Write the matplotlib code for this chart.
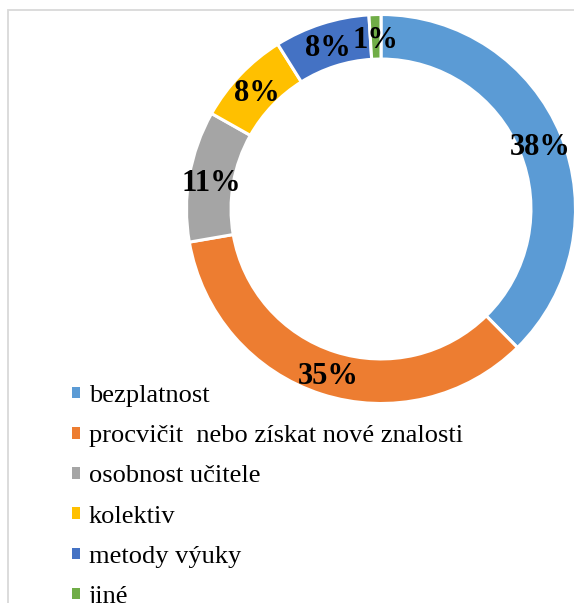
import matplotlib
matplotlib.use("Agg")
import matplotlib.pyplot as plt
from matplotlib.patches import Patch, Rectangle

categories = ["bezplatnost", "procvičit  nebo získat nové znalosti", "osobnost učitele",
              "kolektiv", "metody výuky", "jiné"]
values = [38, 35, 11, 8, 8, 1]
pct_labels = ["38%", "35%", "11%", "8%", "8%", "1%"]
colors = ["#5B9BD5", "#ED7D31", "#A5A5A5", "#FFC000", "#4472C4", "#70AD47"]

W, H = 574, 603
fig = plt.figure(figsize=(W / 100, H / 100), dpi=100)
fig.patch.set_facecolor("white")

# outer border (chart area is cropped on right/bottom)
fig.add_artist(Rectangle((8 / W, -0.1), 1.2, (H - 10) / H + 0.1, transform=fig.transFigure,
                         fill=False, edgecolor="#d9d9d9", linewidth=1.3))

cx, cy, R = 381, H - 209, 194.5
half = 200
ax = fig.add_axes([(cx - half) / W, (cy - half) / H, 2 * half / W, 2 * half / H])
wedges, texts, autotexts = ax.pie(values, colors=colors, startangle=90, counterclock=False,
                                  radius=1, autopct=lambda p: "", pctdistance=0.885,
                                  wedgeprops=dict(width=0.229, edgecolor="white", linewidth=2.2))
for t, lab in zip(autotexts, pct_labels):
    t.set_text(lab)
    t.set_fontfamily("Liberation Serif")
    t.set_fontweight("bold")
    t.set_fontsize(22)
    t.set_color("black")
    t.set_verticalalignment("center_baseline")
lim = half / R
ax.set_xlim(-lim, lim)
ax.set_ylim(-lim, lim)
ax.set_aspect("equal")
ax.axis("off")

handles = [Patch(facecolor=c, edgecolor="none") for c in colors]
leg = fig.legend(handles, categories, loc="upper left", bbox_to_anchor=(72 / W, 1 - 385 / H),
                 frameon=False, prop={"family": "Liberation Serif", "size": 19},
                 handlelength=0.3, handleheight=0.3, handletextpad=0.34, labelspacing=0.69,
                 borderpad=0, borderaxespad=0)

fig.savefig("out.png", dpi=100, facecolor="white")
